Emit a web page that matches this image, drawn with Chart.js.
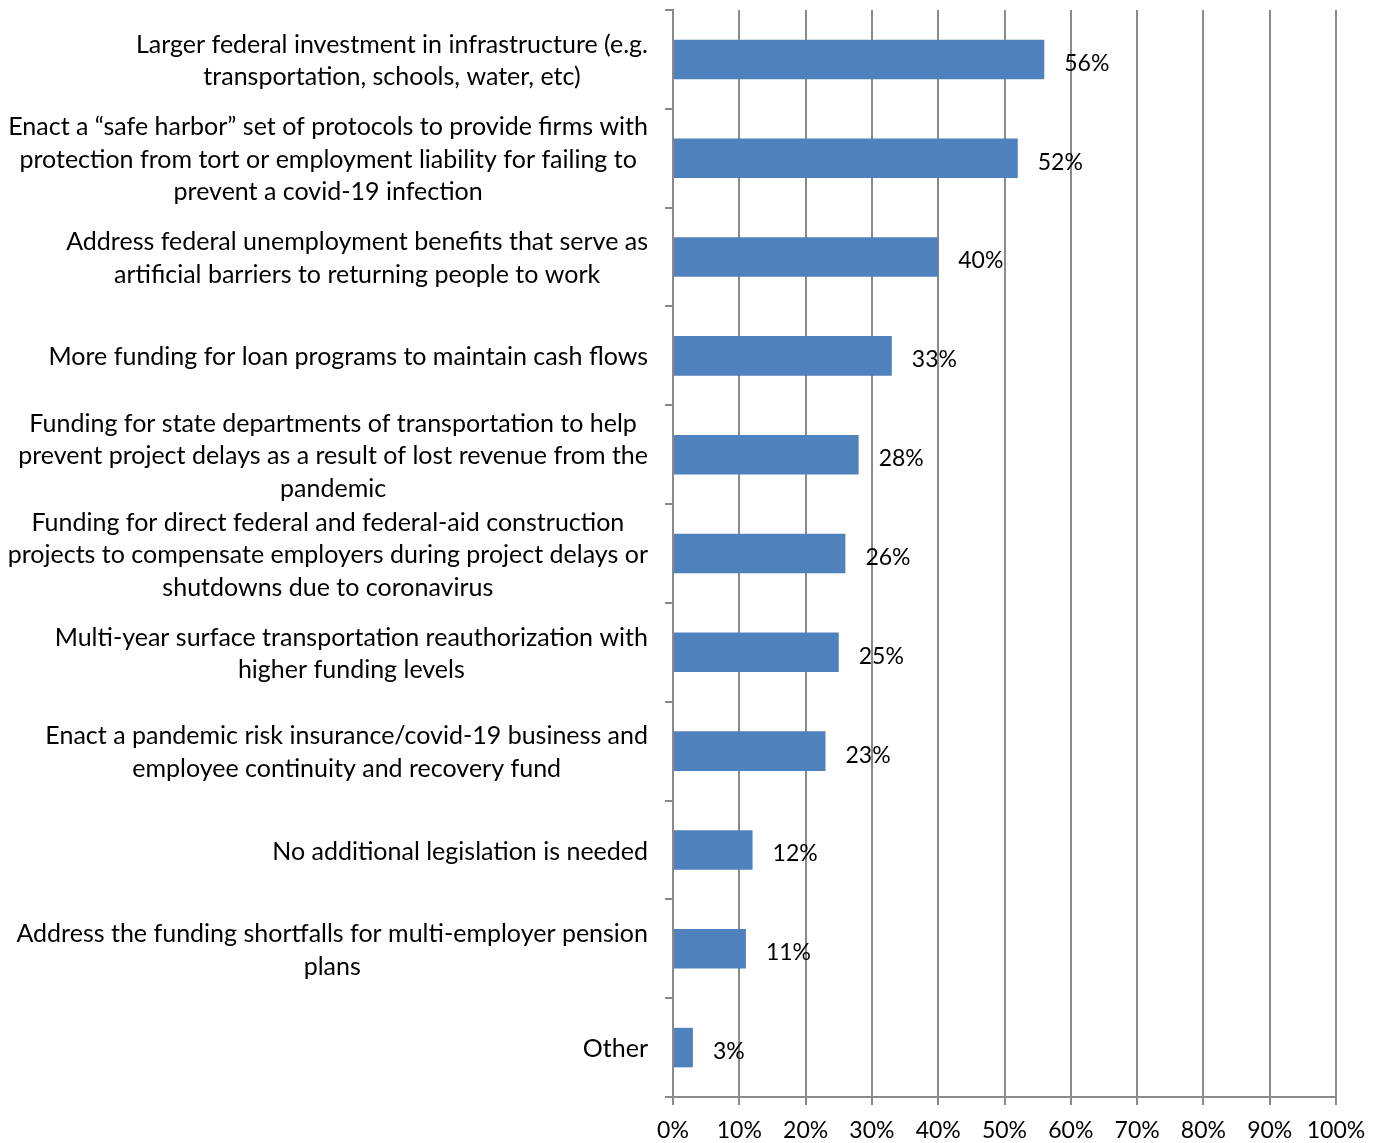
<!DOCTYPE html>
<html>
<head>
<meta charset="utf-8">
<script src="https://cdn.jsdelivr.net/npm/chart.js@4/dist/chart.umd.min.js"></script>
<style>
  html, body { margin: 0; padding: 0; background: #fff; }
  canvas { display: block; }
</style>
</head>
<body>
<canvas id="grafico" width="1384" height="1143"></canvas>
<script>
// Categorias (cada una en lineas, como se muestran)
const categorias = [
  ['Larger federal investment in infrastructure (e.g.', 'transportation, schools, water, etc)'],
  ['Enact a \u201csafe harbor\u201d set of protocols to provide firms with', 'protection from tort or employment liability for failing to', 'prevent a covid-19 infection'],
  ['Address federal unemployment benefits that serve as', 'artificial barriers to returning people to work'],
  ['More funding for loan programs to maintain cash flows'],
  ['Funding for state departments of transportation to help', 'prevent project delays as a result of lost revenue from the', 'pandemic'],
  ['Funding for direct federal and federal-aid construction', 'projects to compensate employers during project delays or', 'shutdowns due to coronavirus'],
  ['Multi-year surface transportation reauthorization with', 'higher funding levels'],
  ['Enact a pandemic risk insurance/covid-19 business and', 'employee continuity and recovery fund'],
  ['No additional legislation is needed'],
  ['Address the funding shortfalls for multi-employer pension', 'plans'],
  ['Other']
];
const porcentajes = [56, 52, 40, 33, 28, 26, 25, 23, 12, 11, 3];
const ticksX = [0, 10, 20, 30, 40, 50, 60, 70, 80, 90, 100];

const fuente = 'Lato, "Liberation Sans", sans-serif';
const tamCategorias = 25;
const tamValores = 23;
const gris = '#8a8a8a';

// Etiquetas de categoria: bloque alineado a la derecha, lineas centradas
const etiquetasCategorias = {
  id: 'etiquetasCategorias',
  afterDraw(chart) {
    const ctx = chart.ctx;
    const y = chart.scales.y;
    const derecha = chart.chartArea.left - 25;
    const alto = 32.5;
    ctx.save();
    ctx.font = `${tamCategorias}px ${fuente}`;
    ctx.fillStyle = '#000';
    ctx.textAlign = 'center';
    ctx.textBaseline = 'middle';
    categorias.forEach((lineas, i) => {
      const ancho = Math.max(...lineas.map(l => ctx.measureText(l).width));
      const cx = derecha - ancho / 2;
      const cy = y.getPixelForValue(i) + 1.5;
      const inicio = cy - (lineas.length - 1) * alto / 2;
      lineas.forEach((l, j) => ctx.fillText(l, cx, inicio + j * alto));
    });
    ctx.restore();
  }
};

// Valores al final de cada barra
const etiquetasValores = {
  id: 'etiquetasValores',
  afterDatasetsDraw(chart) {
    const ctx = chart.ctx;
    const x = chart.scales.x;
    const y = chart.scales.y;
    ctx.save();
    ctx.font = `${tamValores}px ${fuente}`;
    ctx.fillStyle = '#000';
    ctx.textAlign = 'left';
    ctx.textBaseline = 'middle';
    porcentajes.forEach((v, i) => {
      ctx.fillText(v + '%', x.getPixelForValue(v) + 20, y.getPixelForValue(i) + 4);
    });
    ctx.restore();
  }
};

new Chart(document.getElementById('grafico'), {
  type: 'bar',
  data: {
    labels: categorias.map(l => l.join(' ')),
    datasets: [{
      data: porcentajes,
      backgroundColor: '#4f81bd',
      categoryPercentage: 1,
      barPercentage: 0.4
    }]
  },
  options: {
    indexAxis: 'y',
    responsive: false,
    devicePixelRatio: 1,
    animation: false,
    layout: { padding: { left: 665, top: 10, right: 48, bottom: 0 } },
    plugins: {
      legend: { display: false },
      tooltip: { enabled: false }
    },
    scales: {
      x: {
        min: 0,
        max: 100,
        afterBuildTicks: escala => { escala.ticks = ticksX.map(v => ({ value: v })); },
        afterFit: escala => { escala.height = 46; },
        ticks: {
          callback: v => v + '%',
          color: '#000',
          font: { family: fuente, size: tamValores },
          padding: 12,
          maxRotation: 0
        },
        grid: { color: gris, lineWidth: 2, tickLength: 8 },
        border: { color: gris, width: 2 }
      },
      y: {
        ticks: { display: false },
        grid: { drawOnChartArea: false, color: gris, lineWidth: 2, tickLength: 8, offset: true },
        border: { color: gris, width: 2 }
      }
    }
  },
  plugins: [etiquetasCategorias, etiquetasValores]
});
</script>
</body>
</html>
